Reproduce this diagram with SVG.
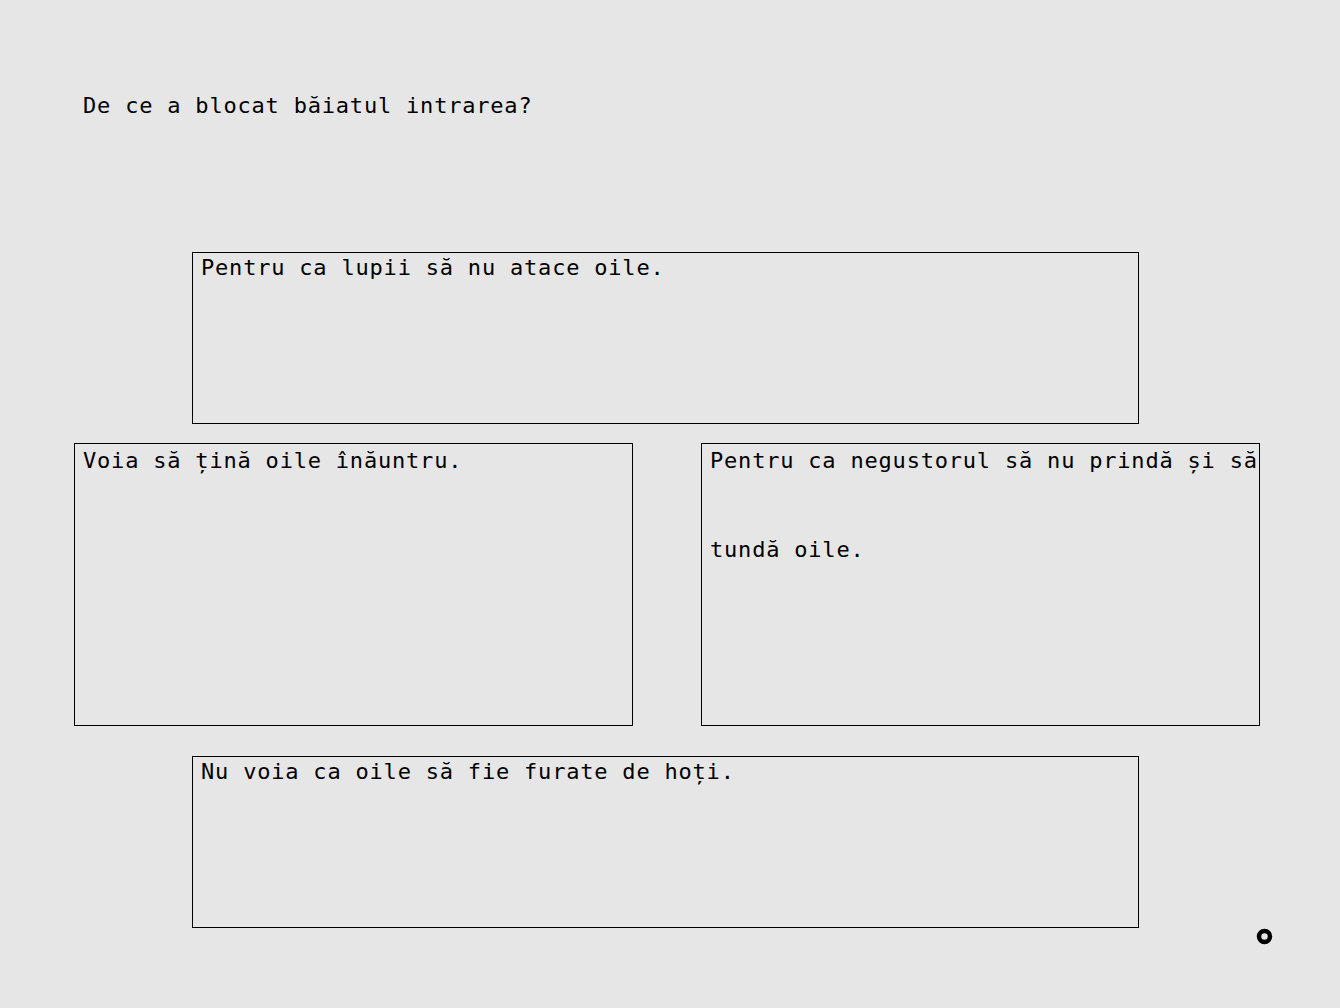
<svg xmlns="http://www.w3.org/2000/svg" width="1340" height="1008" viewBox="0 0 1340 1008">
<style>
.bg{fill:#e6e6e6}
.box{fill:none;stroke:#000;stroke-width:1}
.t{font-family:"DejaVu Sans Mono","Liberation Mono",monospace;font-size:22px;letter-spacing:0.8px;fill:#000}
</style>
<rect class="bg" x="0" y="0" width="1340" height="1008"/>
<g id="title"><text class="t" x="83" y="113">De ce a blocat băiatul intrarea?</text></g>
<g id="node1">
<rect class="box" x="192.5" y="252.5" width="946" height="171"/>
<text class="t" x="201" y="275">Pentru ca lupii să nu atace oile.</text>
</g>
<g id="node2">
<rect class="box" x="74.5" y="443.5" width="558" height="282"/>
<text class="t" x="83" y="468">Voia să țină oile înăuntru.</text>
</g>
<g id="node3">
<rect class="box" x="701.5" y="443.5" width="558" height="282"/>
<text class="t" x="710" y="468">Pentru ca negustorul să nu prindă și să</text>
<text class="t" x="710" y="557">tundă oile.</text>
</g>
<g id="node4">
<rect class="box" x="192.5" y="756.5" width="946" height="171"/>
<text class="t" x="201" y="779">Nu voia ca oile să fie furate de hoți.</text>
</g>
<g id="connectors"></g>
<g id="marker"><circle cx="1264.5" cy="936.5" r="5.5" fill="none" stroke="#000" stroke-width="4.5"/></g>
</svg>
